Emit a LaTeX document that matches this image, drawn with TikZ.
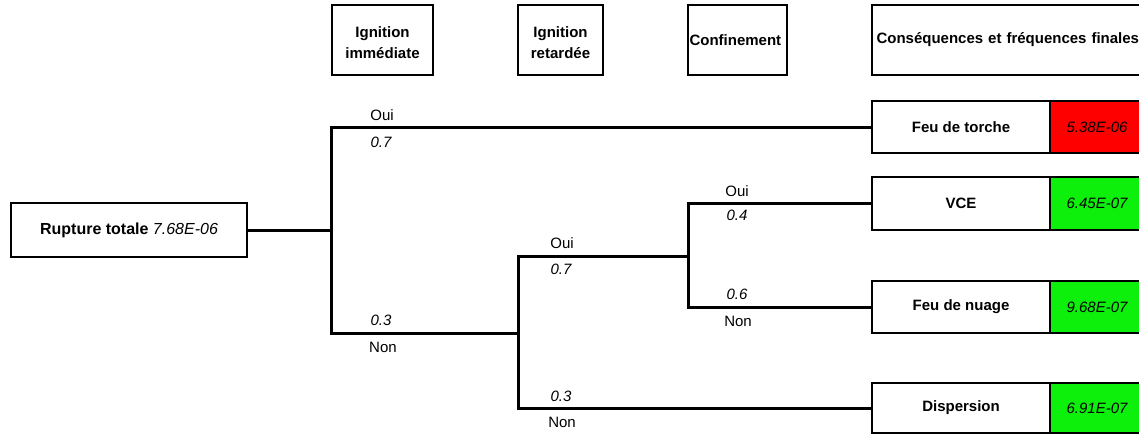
\documentclass[tikz,border=0pt]{standalone}
\usepackage{fontspec}
\setmainfont{Liberation Sans}
\definecolor{hotred}{RGB}{255,0,0}
\definecolor{okgreen}{RGB}{12,240,12}
\begin{document}
\begin{tikzpicture}[x=1pt,y=-1pt,
  every node/.style={inner sep=0pt, font=\fontsize{15}{21}\selectfont},
  branch/.style={line width=3pt, line join=miter},
  headbox/.style={draw, line width=2pt, minimum height=70pt, align=center, font=\fontsize{15}{21}\selectfont\bfseries},
  conbox/.style={draw, line width=2.5pt, minimum width=178pt, font=\fontsize{15}{18}\selectfont\bfseries},
  valbox/.style={draw, line width=2.5pt, minimum width=94pt, font=\fontsize{15}{18}\selectfont\itshape},
  yes/.style={font=\fontsize{15}{18}\selectfont},
  prob/.style={font=\fontsize{15}{18}\selectfont\itshape}]
\path[use as bounding box] (0,0) rectangle (1139,434);
\clip (0,0) rectangle (1139,434);

% column headers
\node[headbox, minimum width=101pt, inner ysep=3pt] (hImm) at (382.5,40) {\rule{0pt}{17pt}Ignition\\immédiate};
\node[headbox, minimum width=85pt, inner ysep=3pt] (hRet) at (560.5,40) {\rule{0pt}{17pt}Ignition\\retardée};
\node[headbox, minimum width=99pt, inner xsep=1.5pt, text width=96pt, align=left] (hConf) at (737.5,40) {Confinement};
\node[headbox, minimum width=278pt, inner xsep=4.5pt, text width=269pt, align=left] (hCons) at (1011,40) {Conséquences et fréquences finales};

% initiating event
\node[draw, line width=2.5pt, minimum width=236pt, minimum height=54pt, font=\fontsize{16}{19}\selectfont] (root) at (129,230) {\textbf{Rupture totale} \textit{7.68E-06}};

% outcomes
\node[conbox, minimum height=52pt] (torche) at (961,127) {Feu de torche};
\node[valbox, minimum height=52pt, fill=hotred] (vTorche) at (1097,127) {5.38E-06};
\node[conbox, minimum height=53pt] (vce) at (961,203.5) {VCE};
\node[valbox, minimum height=53pt, fill=okgreen] (vVce) at (1097,203.5) {6.45E-07};
\node[conbox, minimum height=52pt] (nuage) at (961,307) {Feu de nuage};
\node[valbox, minimum height=52pt, fill=okgreen] (vNuage) at (1097,307) {9.68E-07};
\node[conbox, minimum height=50pt] (disp) at (961,408) {Dispersion};
\node[valbox, minimum height=50pt, fill=okgreen] (vDisp) at (1097,408) {6.91E-07};

% branch points
\coordinate (k1) at (331,230);
\coordinate (k2) at (518,333);
\coordinate (k3) at (688,256);

% event tree
\draw[branch] (root.east) -- (k1);
\draw[branch] (torche.west) -| (k1) |- (k2);
\draw[branch] (k3) -| (k2) |- (disp.west);
\draw[branch] (vce.west) -| (k3) |- (nuage.west);

% branch labels
\node[yes] (o1) at (382,115) {Oui};
\node[prob] (p1) at (381,142) {0.7};
\node[prob] (p2) at (381,320) {0.3};
\node[yes] (n2) at (383,347) {Non};
\node[yes] (o3) at (562,243) {Oui};
\node[prob] (p3) at (561,269) {0.7};
\node[prob] (p4) at (561,396) {0.3};
\node[yes] (n4) at (562,422) {Non};
\node[yes] (o5) at (737,191) {Oui};
\node[prob] (p5) at (737,215) {0.4};
\node[prob] (p6) at (737,294) {0.6};
\node[yes] (n6) at (738,321) {Non};
\end{tikzpicture}
\end{document}
